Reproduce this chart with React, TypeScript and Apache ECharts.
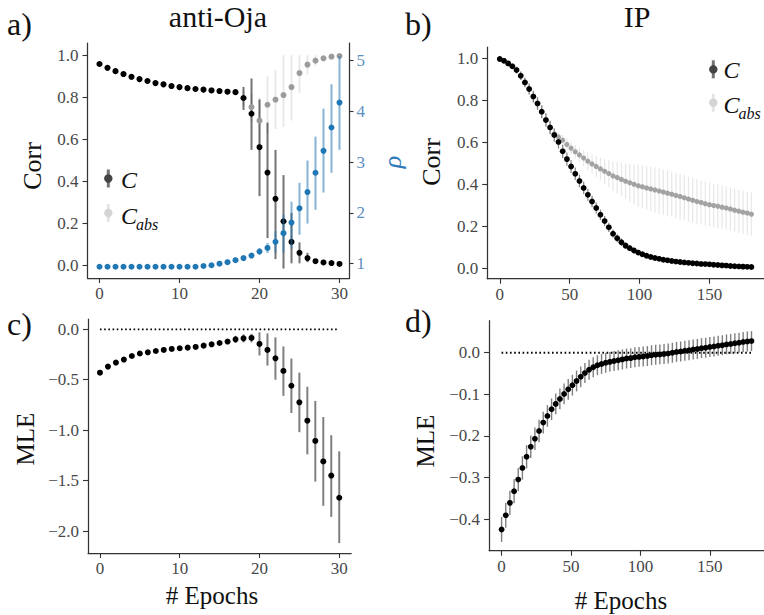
import React, { useEffect, useRef } from "react";
import * as echarts from "echarts";

const SERIF = "'Liberation Serif', 'Times New Roman', serif";
const INK = "#333333";
const TICK_TEXT = "#484848";
const BLUE = "#1f77b4";

// ---- a) anti-Oja: correlations and rho per epoch ----
const epochsA = [0, 1, 2, 3, 4, 5, 6, 7, 8, 9, 10, 11, 12, 13, 14, 15, 16, 17, 18, 19, 20, 21, 22, 23, 24, 25, 26, 27, 28, 29, 30];
const corrA = [0.959, 0.941, 0.925, 0.911, 0.898, 0.887, 0.878, 0.868, 0.862, 0.854, 0.849, 0.844, 0.84, 0.837, 0.833, 0.83, 0.827, 0.825, 0.797, 0.722, 0.563, 0.442, 0.317, 0.21, 0.112, 0.06, 0.035, 0.02, 0.014, 0.011, 0.007];
const corrALow = [0.955, 0.937, 0.921, 0.907, 0.894, 0.883, 0.874, 0.864, 0.858, 0.85, 0.845, 0.84, 0.836, 0.832, 0.828, 0.825, 0.822, 0.818, 0.74, 0.55, 0.33, 0.13, 0.03, -0.015, 0.01, 0.01, 0.015, 0.012, 0.009, 0.007, 0.004];
const corrAHigh = [0.963, 0.945, 0.929, 0.915, 0.902, 0.891, 0.882, 0.872, 0.866, 0.858, 0.853, 0.848, 0.844, 0.842, 0.838, 0.835, 0.832, 0.832, 0.85, 0.89, 0.79, 0.68, 0.55, 0.43, 0.25, 0.11, 0.06, 0.03, 0.02, 0.015, 0.01];
const corrAbsA = [0.959, 0.941, 0.925, 0.911, 0.898, 0.887, 0.878, 0.868, 0.862, 0.854, 0.849, 0.844, 0.84, 0.837, 0.833, 0.83, 0.827, 0.825, 0.797, 0.754, 0.689, 0.765, 0.789, 0.811, 0.849, 0.916, 0.956, 0.975, 0.986, 0.994, 0.997];
const corrAbsALow = [0.955, 0.937, 0.921, 0.907, 0.894, 0.883, 0.874, 0.864, 0.858, 0.85, 0.845, 0.84, 0.836, 0.832, 0.828, 0.825, 0.822, 0.818, 0.76, 0.68, 0.56, 0.63, 0.65, 0.66, 0.69, 0.82, 0.91, 0.95, 0.975, 0.99, 0.995];
const corrAbsAHigh = [0.963, 0.945, 0.929, 0.915, 0.902, 0.891, 0.882, 0.872, 0.866, 0.858, 0.853, 0.848, 0.844, 0.842, 0.838, 0.835, 0.832, 0.832, 0.83, 0.82, 0.8, 0.9, 0.93, 1.0, 1.0, 1.0, 1.0, 1.0, 0.995, 0.998, 0.999];
const rhoA = [0.94, 0.94, 0.94, 0.94, 0.94, 0.94, 0.94, 0.94, 0.94, 0.94, 0.94, 0.94, 0.94, 0.955, 0.97, 1.0, 1.03, 1.07, 1.11, 1.16, 1.24, 1.31, 1.43, 1.6, 1.81, 2.09, 2.41, 2.79, 3.22, 3.68, 4.17];
const rhoALow = [0.93, 0.93, 0.93, 0.93, 0.93, 0.93, 0.93, 0.93, 0.93, 0.93, 0.93, 0.93, 0.93, 0.945, 0.955, 0.985, 1.01, 1.04, 1.07, 1.11, 1.17, 1.21, 1.22, 1.22, 1.3, 1.57, 1.79, 2.06, 2.4, 2.79, 3.24];
const rhoAHigh = [0.95, 0.95, 0.95, 0.95, 0.95, 0.95, 0.95, 0.95, 0.95, 0.95, 0.95, 0.95, 0.95, 0.965, 0.985, 1.015, 1.05, 1.1, 1.15, 1.21, 1.31, 1.41, 1.64, 1.97, 2.22, 2.59, 3.03, 3.5, 4.05, 4.53, 5.09];

// ---- b) IP: correlations, recorded every third epoch ----
const epochsB = Array.from({ length: 61 }, (_, i) => i * 3);
const corrB = [0.997, 0.988, 0.976, 0.962, 0.944, 0.917, 0.885, 0.854, 0.818, 0.785, 0.746, 0.706, 0.671, 0.635, 0.602, 0.557, 0.52, 0.485, 0.45, 0.416, 0.383, 0.35, 0.318, 0.287, 0.255, 0.225, 0.195, 0.165, 0.143, 0.124, 0.108, 0.096, 0.085, 0.075, 0.067, 0.06, 0.054, 0.049, 0.045, 0.041, 0.038, 0.035, 0.032, 0.03, 0.028, 0.026, 0.024, 0.023, 0.021, 0.02, 0.019, 0.017, 0.016, 0.014, 0.013, 0.011, 0.01, 0.009, 0.008, 0.007, 0.006];
const corrBErr = [0.005, 0.008, 0.01, 0.013, 0.016, 0.02, 0.023, 0.026, 0.028, 0.03, 0.031, 0.032, 0.032, 0.032, 0.032, 0.032, 0.032, 0.031, 0.03, 0.03, 0.029, 0.028, 0.027, 0.026, 0.025, 0.024, 0.022, 0.02, 0.019, 0.018, 0.016, 0.015, 0.014, 0.013, 0.012, 0.011, 0.01, 0.01, 0.009, 0.009, 0.008, 0.008, 0.008, 0.007, 0.007, 0.007, 0.006, 0.006, 0.006, 0.006, 0.005, 0.005, 0.005, 0.005, 0.005, 0.005, 0.004, 0.004, 0.004, 0.004, 0.004];
const corrAbsB = [0.997, 0.988, 0.976, 0.962, 0.944, 0.917, 0.885, 0.854, 0.818, 0.785, 0.746, 0.706, 0.671, 0.64, 0.625, 0.61, 0.59, 0.572, 0.555, 0.54, 0.525, 0.51, 0.497, 0.485, 0.473, 0.462, 0.451, 0.44, 0.432, 0.423, 0.415, 0.407, 0.4, 0.393, 0.388, 0.383, 0.378, 0.373, 0.368, 0.363, 0.358, 0.353, 0.347, 0.342, 0.336, 0.33, 0.324, 0.318, 0.313, 0.308, 0.303, 0.299, 0.295, 0.291, 0.287, 0.282, 0.277, 0.272, 0.267, 0.263, 0.258];
const corrAbsBErr = [0.005, 0.008, 0.01, 0.013, 0.016, 0.02, 0.023, 0.026, 0.028, 0.03, 0.031, 0.032, 0.032, 0.02, 0.022, 0.025, 0.027, 0.03, 0.032, 0.035, 0.038, 0.042, 0.046, 0.05, 0.055, 0.06, 0.065, 0.07, 0.075, 0.08, 0.085, 0.09, 0.095, 0.1, 0.102, 0.104, 0.106, 0.107, 0.108, 0.108, 0.108, 0.108, 0.108, 0.108, 0.107, 0.107, 0.106, 0.106, 0.105, 0.105, 0.104, 0.104, 0.104, 0.103, 0.103, 0.103, 0.103, 0.103, 0.103, 0.103, 0.103];

// ---- c) anti-Oja: MLE per epoch ----
const mleC = [-0.43, -0.37, -0.33, -0.3, -0.265, -0.24, -0.228, -0.215, -0.205, -0.195, -0.188, -0.182, -0.175, -0.162, -0.149, -0.136, -0.122, -0.1, -0.09, -0.086, -0.145, -0.205, -0.288, -0.413, -0.56, -0.724, -0.906, -1.107, -1.31, -1.45, -1.67];
const mleCLow = [-0.442, -0.382, -0.342, -0.312, -0.277, -0.252, -0.24, -0.227, -0.217, -0.207, -0.2, -0.194, -0.187, -0.174, -0.161, -0.148, -0.14, -0.135, -0.13, -0.13, -0.26, -0.36, -0.5, -0.66, -0.83, -1.02, -1.24, -1.51, -1.75, -1.86, -2.12];
const mleCHigh = [-0.418, -0.358, -0.318, -0.288, -0.253, -0.228, -0.216, -0.203, -0.193, -0.183, -0.176, -0.17, -0.163, -0.15, -0.137, -0.124, -0.105, -0.065, -0.05, -0.045, -0.03, -0.04, -0.08, -0.17, -0.29, -0.43, -0.57, -0.71, -0.87, -1.05, -1.21];

// ---- d) IP: MLE, recorded every third epoch ----
const epochsD = Array.from({ length: 61 }, (_, i) => i * 3);
const mleD = [-0.425, -0.391, -0.361, -0.333, -0.305, -0.277, -0.25, -0.226, -0.207, -0.188, -0.168, -0.152, -0.136, -0.123, -0.111, -0.099, -0.088, -0.078, -0.068, -0.058, -0.049, -0.041, -0.035, -0.03, -0.027, -0.024, -0.022, -0.02, -0.018, -0.016, -0.014, -0.013, -0.011, -0.01, -0.009, -0.008, -0.006, -0.005, -0.004, -0.003, -0.002, 0.0, 0.002, 0.003, 0.005, 0.006, 0.008, 0.009, 0.011, 0.012, 0.014, 0.015, 0.017, 0.018, 0.02, 0.021, 0.023, 0.024, 0.026, 0.027, 0.028];
const mleDErr = [0.03, 0.03, 0.029, 0.029, 0.028, 0.028, 0.028, 0.027, 0.027, 0.027, 0.026, 0.026, 0.026, 0.025, 0.025, 0.025, 0.025, 0.025, 0.025, 0.025, 0.024, 0.024, 0.024, 0.024, 0.024, 0.024, 0.024, 0.024, 0.024, 0.024, 0.024, 0.024, 0.024, 0.024, 0.024, 0.024, 0.024, 0.024, 0.024, 0.024, 0.024, 0.024, 0.024, 0.024, 0.024, 0.024, 0.024, 0.024, 0.024, 0.024, 0.024, 0.024, 0.024, 0.024, 0.024, 0.024, 0.024, 0.024, 0.024, 0.024, 0.024];

// ---- tick positions ----
const ticksXA = [0, 10, 20, 30];
const ticksXB = [0, 50, 100, 150];
const ticksCorr = [0, 0.2, 0.4, 0.6, 0.8, 1.0];
const ticksRho = [1, 2, 3, 4, 5];
const ticksMleC = [0, -0.5, -1.0, -1.5, -2.0];
const ticksMleD = [0, -0.1, -0.2, -0.3, -0.4];

const fmt1 = (v: number) => (v < -1e-9 ? "\u2212" : "") + Math.abs(v).toFixed(1);

function xAxis(gridIndex: number, min: number, max: number, ticks: number[]) {
  return {
    type: "value",
    gridIndex,
    min,
    max,
    axisLine: { show: true, onZero: false, lineStyle: { color: INK, width: 1.25 } },
    axisTick: { show: true, inside: false, length: 5, customValues: ticks, lineStyle: { color: INK, width: 1.1 } },
    axisLabel: {
      show: true,
      customValues: ticks,
      margin: 7,
      color: TICK_TEXT,
      fontFamily: SERIF,
      fontSize: 17,
      formatter: (v: number) => String(Math.round(v)),
    },
    splitLine: { show: false },
  };
}

function yAxis(gridIndex: number, min: number, max: number, ticks: number[], opts: any = {}) {
  return {
    type: "value",
    gridIndex,
    min,
    max,
    position: opts.position || "left",
    axisLine: { show: true, onZero: false, lineStyle: { color: INK, width: 1.25 } },
    axisTick: { show: true, inside: false, length: opts.tickLen ?? 5, customValues: ticks, lineStyle: { color: INK, width: 1.1 } },
    axisLabel: {
      show: true,
      customValues: ticks,
      margin: opts.margin ?? 9,
      color: opts.labelColor || TICK_TEXT,
      fontFamily: SERIF,
      fontSize: 17,
      formatter: opts.formatter || fmt1,
    },
    splitLine: { show: false },
  };
}

function errorBars(xi: number, yi: number, xs: number[], lo: number[], hi: number[], color: string, width: number, z: number) {
  return {
    type: "custom",
    xAxisIndex: xi,
    yAxisIndex: yi,
    z,
    silent: true,
    encode: { x: 0, y: [1, 2] },
    data: xs.map((x, i) => [x, lo[i], hi[i]]),
    renderItem: (_p: any, api: any) => {
      const a = api.coord([api.value(0), api.value(1)]);
      const b = api.coord([api.value(0), api.value(2)]);
      return {
        type: "line",
        shape: { x1: a[0], y1: a[1], x2: b[0], y2: b[1] },
        style: { stroke: color, lineWidth: width },
      };
    },
  };
}

function dots(xi: number, yi: number, xs: number[], ys: number[], color: string, size: number, z: number) {
  return {
    type: "scatter",
    xAxisIndex: xi,
    yAxisIndex: yi,
    z,
    silent: true,
    symbol: "circle",
    symbolSize: size,
    itemStyle: { color, opacity: 1 },
    data: xs.map((x, i) => [x, ys[i]]),
  };
}

const minus = (v: number[], e: number[]) => v.map((x, i) => x - e[i]);
const plus = (v: number[], e: number[]) => v.map((x, i) => x + e[i]);

function label(text: string, x: number, y: number, size: number, opts: any = {}) {
  return {
    type: "text",
    x,
    y,
    rotation: opts.rotation || 0,
    silent: true,
    style: {
      text,
      fill: opts.color || "#111",
      font: `${opts.italic ? "italic " : ""}${size}px ${SERIF}`,
      textAlign: opts.align || "center",
      textVerticalAlign: "middle",
    },
  };
}

function legendMark(x: number, y: number, dotColor: string, barColor: string) {
  return [
    { type: "line", silent: true, shape: { x1: x, y1: y - 9, x2: x, y2: y + 9 }, style: { stroke: barColor, lineWidth: 3 } },
    { type: "circle", silent: true, shape: { cx: x, cy: y, r: 4.2 }, style: { fill: dotColor } },
  ];
}

export default function App() {
  const ref = useRef<HTMLDivElement>(null);

  useEffect(() => {
    if (!ref.current) return;
    const chart = echarts.init(ref.current, undefined, { renderer: "svg" });

    const option: any = {
      animation: false,
      backgroundColor: "#ffffff",
      grid: [
        { left: 87.5, top: 43, width: 262, height: 235 },
        { left: 487.2, top: 47, width: 282.5, height: 231.7 },
        { left: 88, top: 319, width: 263.2, height: 234 },
        { left: 489.1, top: 320.7, width: 283.4, height: 230 },
      ],
      xAxis: [
        xAxis(0, -1.5, 31.25, ticksXA),
        xAxis(1, -9, 189, ticksXB),
        xAxis(2, -1.5, 31.5, ticksXA),
        xAxis(3, -9, 189, ticksXB),
      ],
      yAxis: [
        yAxis(0, -0.06, 1.059, ticksCorr),
        yAxis(0, 0.719, 5.342, ticksRho, {
          position: "right",
          labelColor: "#5b8fc2",
          tickLen: 4,
          margin: 7,
          formatter: (v: number) => String(Math.round(v)),
        }),
        yAxis(1, -0.0495, 1.054, ticksCorr),
        yAxis(2, -2.218, 0.102, ticksMleC),
        yAxis(3, -0.476, 0.077, ticksMleD),
      ],
      series: [
        // a) anti-Oja
        errorBars(0, 0, epochsA, corrALow, corrAHigh, "rgba(0,0,0,0.55)", 2, 2),
        errorBars(0, 0, epochsA, corrAbsALow, corrAbsAHigh, "rgba(0,0,0,0.09)", 2, 3),
        dots(0, 0, epochsA, corrAbsA, "#9b9b9b", 6, 4),
        dots(0, 0, epochsA, corrA, "#000000", 6, 5),
        errorBars(0, 1, epochsA, rhoALow, rhoAHigh, "rgba(31,119,180,0.55)", 2, 6),
        dots(0, 1, epochsA, rhoA, BLUE, 6, 7),
        // b) IP
        errorBars(1, 2, epochsB, minus(corrB, corrBErr), plus(corrB, corrBErr), "rgba(0,0,0,0.45)", 1.3, 2),
        errorBars(1, 2, epochsB, minus(corrAbsB, corrAbsBErr), plus(corrAbsB, corrAbsBErr), "rgba(0,0,0,0.09)", 1.3, 3),
        dots(1, 2, epochsB, corrAbsB, "#a3a3a3", 5.2, 4),
        dots(1, 2, epochsB, corrB, "#000000", 5.8, 5),
        // c) anti-Oja MLE
        {
          type: "line",
          xAxisIndex: 2,
          yAxisIndex: 3,
          data: [[0, 0], [30, 0]],
          symbol: "none",
          silent: true,
          z: 1,
          lineStyle: { color: "#000", width: 1.8, type: [1.6, 2.6] },
        },
        errorBars(2, 3, epochsA, mleCLow, mleCHigh, "rgba(0,0,0,0.5)", 2, 2),
        dots(2, 3, epochsA, mleC, "#000000", 6, 5),
        // d) IP MLE
        {
          type: "line",
          xAxisIndex: 3,
          yAxisIndex: 4,
          data: [[0, 0], [180, 0]],
          symbol: "none",
          silent: true,
          z: 1,
          lineStyle: { color: "#000", width: 1.8, type: [1.6, 2.6] },
        },
        errorBars(3, 4, epochsD, minus(mleD, mleDErr), plus(mleD, mleDErr), "rgba(0,0,0,0.5)", 1.4, 2),
        dots(3, 4, epochsD, mleD, "#000000", 5.8, 5),
      ],
      graphic: [
        label("a)", 7, 24, 32, { align: "left" }),
        label("b)", 405, 24, 32, { align: "left" }),
        label("c)", 7, 324, 32, { align: "left" }),
        label("d)", 405, 321, 32, { align: "left" }),
        label("anti-Oja", 218, 16, 30),
        label("IP", 637, 16, 30),
        label("Corr", 32, 166, 26, { rotation: Math.PI / 2 }),
        label("Corr", 431, 162, 26, { rotation: Math.PI / 2 }),
        label("\u03c1", 392, 162, 26, { rotation: Math.PI / 2, italic: true, color: "#2f7ab8" }),
        label("MLE", 25, 439, 25, { rotation: Math.PI / 2 }),
        label("MLE", 425, 441, 25, { rotation: Math.PI / 2 }),
        label("# Epochs", 212, 595, 25),
        label("# Epochs", 621, 600, 25),
        // legend of panel a
        ...legendMark(108.3, 178.5, "#444444", "rgba(0,0,0,0.55)"),
        label("C", 121, 180, 24, { align: "left", italic: true }),
        ...legendMark(108.3, 213, "#d4d4d4", "rgba(0,0,0,0.1)"),
        label("C", 121, 216, 24, { align: "left", italic: true }),
        label("abs", 136, 224, 16, { align: "left", italic: true }),
        // legend of panel b
        ...legendMark(713.3, 69.3, "#444444", "rgba(0,0,0,0.55)"),
        label("C", 723.5, 70, 24, { align: "left", italic: true }),
        ...legendMark(713.3, 102.7, "#d4d4d4", "rgba(0,0,0,0.1)"),
        label("C", 723.5, 105, 24, { align: "left", italic: true }),
        label("abs", 738.5, 113, 16, { align: "left", italic: true }),
      ],
    };

    chart.setOption(option);
    return () => chart.dispose();
  }, []);

  return (
    <div
      ref={ref}
      style={{ position: "absolute", left: 0, top: 0, width: 764, height: 615, background: "#fff" }}
    />
  );
}
